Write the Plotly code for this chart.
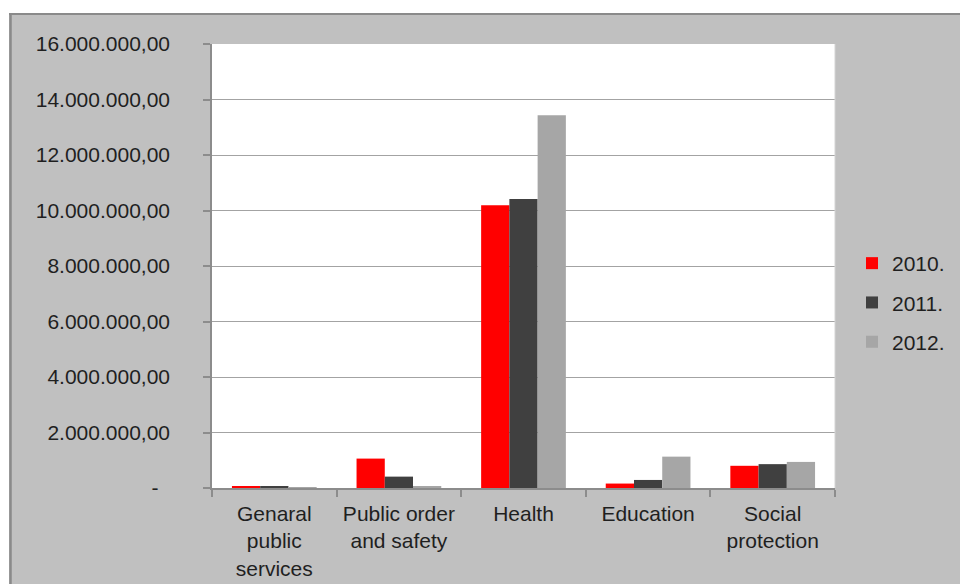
import plotly.graph_objects as go

# Expenditure by function, three years
categories = [
    "Genaral<br>public<br>services",
    "Public order<br>and safety",
    "Health",
    "Education",
    "Social<br>protection",
]
years = ["2010.", "2011.", "2012."]
values_2010 = [50000, 1060000, 10190000, 160000, 800000]
values_2011 = [45000, 410000, 10410000, 290000, 860000]
values_2012 = [35000, 50000, 13430000, 1130000, 940000]

y_tickvals = [0, 2e6, 4e6, 6e6, 8e6, 10e6, 12e6, 14e6, 16e6]
y_ticktext = ["-\u00a0\u00a0", "2.000.000,00", "4.000.000,00", "6.000.000,00",
              "8.000.000,00", "10.000.000,00", "12.000.000,00",
              "14.000.000,00", "16.000.000,00"]

colors = ["#ff0000", "#404040", "#a6a6a6"]
series = [values_2010, values_2011, values_2012]

W, H = 960, 584
L, R, T, B = 212, 125, 44, 96
pw, ph = W - L - R, H - T - B


def px_x(p):
    return (p - L) / pw


def px_y(p):
    return (H - B - p) / ph


FONT = "Liberation Sans, Arial, sans-serif"
TEXT = "#1f1f1f"

fig = go.Figure()
for i, (name, vals) in enumerate(zip(years, series)):
    fig.add_trace(go.Bar(
        x=categories, y=vals, name=name,
        marker=dict(color=colors[i], line=dict(width=0)),
        legendgroup=name,
    ))

shapes = [
    # white band above and left of the chart frame
    dict(type="rect", xref="paper", yref="paper",
         x0=px_x(-5), x1=px_x(W + 5), y0=px_y(13), y1=px_y(-5),
         fillcolor="white", line=dict(width=0), layer="above"),
    dict(type="rect", xref="paper", yref="paper",
         x0=px_x(-5), x1=px_x(9), y0=px_y(H + 5), y1=px_y(-5),
         fillcolor="white", line=dict(width=0), layer="above"),
    # frame edges
    dict(type="line", xref="paper", yref="paper",
         x0=px_x(9), x1=px_x(W + 5), y0=px_y(14), y1=px_y(14),
         line=dict(color="#8a8a8a", width=2), layer="above"),
    dict(type="line", xref="paper", yref="paper",
         x0=px_x(10.5), x1=px_x(10.5), y0=px_y(13), y1=px_y(H + 5),
         line=dict(color="#8a8a8a", width=2.5), layer="above"),
    # right edge of the plot area
    dict(type="line", xref="paper", yref="paper",
         x0=1, x1=1, y0=0, y1=1,
         line=dict(color="#d4d4d4", width=1), layer="above"),
]

fig.update_layout(
    width=W, height=H,
    margin=dict(l=L, r=R, t=T, b=B, pad=0, autoexpand=False),
    paper_bgcolor="#c0c0c0",
    plot_bgcolor="white",
    barmode="group",
    bargap=0.32,
    bargroupgap=0,
    font=dict(family=FONT, size=21, color=TEXT),
    showlegend=True,
    legend=dict(
        x=px_x(852), xanchor="left",
        y=px_y(243), yanchor="top",
        bgcolor="rgba(0,0,0,0)",
        font=dict(family=FONT, size=21, color=TEXT),
        traceorder="grouped",
        tracegroupgap=9,
        itemwidth=30,
    ),
    shapes=shapes,
)

fig.update_xaxes(
    type="category", automargin=False,
    showline=True, linecolor="#8c8c8c", linewidth=1.5,
    ticks="outside", tickson="boundaries", ticklen=7,
    tickcolor="#8c8c8c", tickwidth=1.5,
    showgrid=False,
    tickfont=dict(family=FONT, size=21, color=TEXT),
    ticklabelstandoff=6,
)

fig.update_yaxes(
    range=[0, 16e6], automargin=False,
    tickvals=y_tickvals, ticktext=y_ticktext,
    showline=True, linecolor="#8c8c8c", linewidth=1.5,
    ticks="outside", ticklen=7, tickcolor="#8c8c8c", tickwidth=1.5,
    showgrid=True, gridcolor="#a3a3a3", gridwidth=1.2,
    zeroline=False,
    tickfont=dict(family=FONT, size=21, color=TEXT),
    ticklabelstandoff=29,
)

fig.write_html("out.html")
